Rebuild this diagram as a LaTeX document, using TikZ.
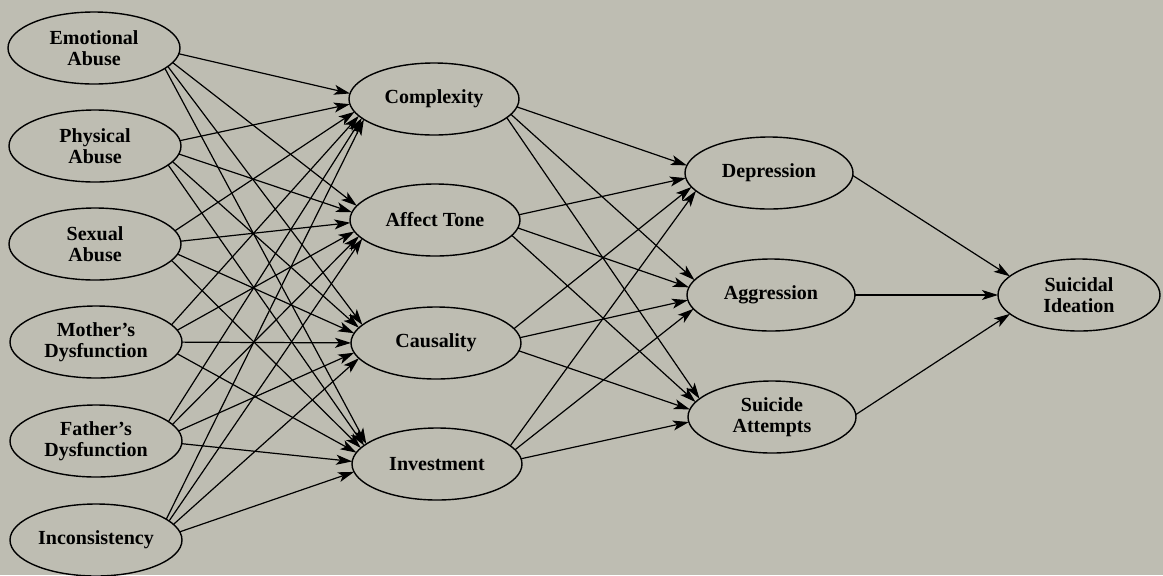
\documentclass[tikz,border=0pt]{standalone}
\usepackage{fontspec}
\setmainfont{Liberation Serif}
\usetikzlibrary{shapes.geometric,arrows.meta,calc,intersections}
\definecolor{bgc}{RGB}{190,189,178}
% border path of an ellipse node: name, x radius, y radius
\newcommand\bord[3]{\path[name path global=b#1] (#1.center) ellipse[x radius=#2,y radius=#3];}
% connector: source, target, source offset, target offset
\newcommand\lnk[4]{%
  \path[name path global=ln] ($(#1.center)+(#3,0)$) -- ($(#2.center)+(-#4,0)$);
  \path[name intersections={of=ln and b#1,by=A}];
  \path[name intersections={of=ln and b#2,by=B}];
  \draw[conn] (A) -- (B);}
\begin{document}
\begin{tikzpicture}[x=0.5pt,y=-0.5pt,
  var/.style={ellipse,draw,line width=0.7pt,minimum width=86pt,minimum height=36pt,
    inner sep=0pt,align=center,font=\bfseries\fontsize{10}{10.5}\selectfont},
  conn/.style={line width=0.6pt,-{Stealth[length=8pt,width=5pt,inset=2pt]}}]
\fill[bgc] (0,0) rectangle (1163,575);
\useasboundingbox (0,0) rectangle (1163,575);
% exogenous
\node[var] (ea) at (94,48) {Emotional\\Abuse};
\node[var] (pa) at (95,146) {Physical\\Abuse};
\node[var] (sa) at (95,244) {Sexual\\Abuse};
\node[var] (md) at (96,342) {Mother’s\\Dysfunction};
\node[var] (fd) at (96,441) {Father’s\\Dysfunction};
\node[var] (in) at (96,540) {Inconsistency};
% mediators
\node[var,minimum width=85pt] (cx) at (434,99) {Complexity};
\node[var,minimum width=85pt] (at) at (435,220) {Affect Tone};
\node[var,minimum width=85pt] (ca) at (436,343) {Causality};
\node[var,minimum width=85pt] (iv) at (437,464) {Investment};
% outcomes
\node[var,minimum width=84pt] (dp) at (769,173) {Depression};
\node[var,minimum width=84pt] (ag) at (771,295) {Aggression};
\node[var,minimum width=84pt] (st) at (772,417) {Suicide\\Attempts};
\node[var,minimum width=81pt] (si) at (1079,295) {Suicidal\\Ideation};
% border paths
\foreach \n in {ea,pa,sa,md,fd,in} {\bord{\n}{43pt}{18pt}}
\foreach \n in {cx,at,ca,iv} {\bord{\n}{42.5pt}{18pt}}
\foreach \n in {dp,ag,st} {\bord{\n}{42pt}{18pt}}
\bord{si}{40.5pt}{18pt}
% connectors
\foreach \s in {ea,pa,sa,md,fd,in}
  \foreach \t in {cx,at,ca,iv}
    {\lnk{\s}{\t}{60}{60}}
\foreach \s in {cx,at,ca,iv}
  \foreach \t in {dp,ag,st}
    {\lnk{\s}{\t}{60}{60}}
\foreach \s in {dp,ag,st}
  {\lnk{\s}{si}{80}{40}}
\end{tikzpicture}
\end{document}
